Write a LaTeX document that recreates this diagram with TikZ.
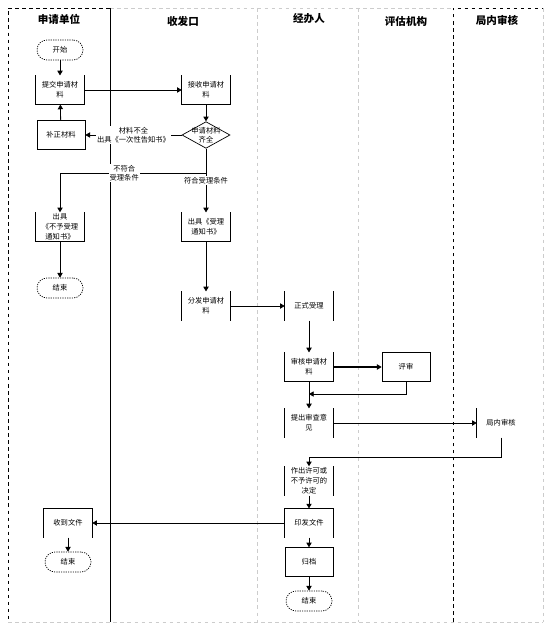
\documentclass[tikz,border=0pt]{standalone}
\usepackage{fontspec}
\setmainfont{Noto Sans CJK SC}
\usetikzlibrary{arrows.meta,shapes.geometric}

\begin{document}
\begin{tikzpicture}[x=0.3mm,y=-0.3mm,
    box/.style={minimum width=14.4mm,minimum height=8.6mm,inner sep=1pt,align=center,font=\fontsize{6.2}{8.5}\selectfont},
    frame/.style={box,draw,line width=0.6pt},
    term/.style={box,draw,line width=0.6pt,minimum width=13.8mm,minimum height=6mm,rounded corners=3mm,dash pattern=on 1pt off 1pt},
    check/.style={diamond,draw,line width=0.6pt,inner sep=0pt,minimum width=14.4mm,minimum height=8mm},
    lane/.style={font=\fontsize{9}{10}\selectfont\bfseries},
    tag/.style={fill=white,inner sep=1pt,align=center,font=\fontsize{6.2}{8}\selectfont},
    flow/.style={-{Triangle[length=4pt,width=4.5pt]},line width=0.7pt}]
        \useasboundingbox (0,0) rectangle (550,630);
        % lanes
        \draw[gray!40,dashed] (110,8) -- (453,8) (8,622) -- (543,622) (543,8) -- (543,622) (257,8) -- (257,622) (358,8) -- (358,622);
        \draw[dashed,line width=0.6pt] (110,8) -- (8,8) -- (8,622);
        \draw[dashed,line width=0.6pt] (453,622) -- (453,8) -- (543,8);
        \draw[line width=0.6pt] (110,8) -- (110,622);
        \node[lane] (unit) at (59,19) {申请单位};
        \node[lane] (desk) at (183,21) {收发口};
        \node[lane] (clerk) at (309,19) {经办人};
        \node[lane] (agency) at (406,21) {评估机构};
        \node[lane] (bureau) at (497,20) {局内审核};
        % steps
        \node[term] (start) at (60,50) {开始};
        \node[box] (submit) at (60,90) {提交申请材\\料};
        \node[frame] (fix) at (61,135) {补正材料};
        \node[box] (receive) at (206,90) {接收申请材\\料};
        \node[check,label={[align=center,font=\fontsize{6.2}{8}\selectfont]center:申请材料\\齐全}] (check) at (206,135) {};
        \node[box] (refuse) at (60,227) {出具\\《不予受理\\通知书》};
        \node[term] (end1) at (60,288) {结束};
        \node[box] (accept) at (206,227) {出具《受理\\通知书》};
        \node[box] (hand) at (206,306) {分发申请材\\料};
        \node[box] (take) at (309,306) {正式受理};
        \node[box] (review) at (309,367) {审核申请材\\料};
        \node[frame] (assess) at (406,367) {评审};
        \node[box] (opinion) at (309,423) {提出审查意\\见};
        \node[box] (audit) at (501,423) {局内审核};
        \node[box] (decide) at (309,481) {作出许可或\\不予许可的\\决定};
        \node[box] (issue) at (309,523) {印发文件};
        \node[frame] (file) at (309,562) {归档};
        \node[term] (end3) at (309,601) {结束};
        \node[box] (get) at (68,523) {收到文件};
        \node[term] (end2) at (68,562) {结束};
        % open sides
        \foreach \n in {submit,receive,refuse,accept,review}
            \draw[line width=0.6pt] (\n.north west) |- (\n.south east) -- (\n.north east);
        \foreach \n in {issue,get}
            \draw[line width=0.6pt] (\n.south west) |- (\n.north east) -- (\n.south east);
        \foreach \n in {hand,take,opinion,decide}
            \draw[line width=0.6pt] (\n.north west) -- (\n.south west) (\n.north east) -- (\n.south east);
        \draw[line width=0.6pt] (audit.north west) -- (audit.south west);
        % flow
        \coordinate (fork) at (206,173);
        \coordinate (back1) at (309,394);
        \coordinate (back2) at (309,457);
        \draw[flow] (start) -- (submit);
        \draw[flow] (submit) -- (receive);
        \draw[flow] (fix) -- (submit);
        \draw[flow] (receive) -- (check);
        \draw[flow] (check) -- node[tag]{材料不全\\出具《一次性告知书》} (fix);
        \draw[line width=0.7pt] (check) -- (fork);
        \draw[flow] (fork) -| node[tag,pos=0.28]{不符合\\受理条件} (refuse);
        \draw[flow] (fork) -- node[tag,pos=0.2]{符合受理条件} (accept);
        \draw[flow] (refuse) -- (end1);
        \draw[flow] (accept) -- (hand);
        \draw[flow] (hand) -- (take);
        \draw[flow] (take) -- (review);
        \draw[flow,line width=1.6pt] (review) -- (assess);
        \draw[flow] (assess.south) |- (back1);
        \draw[flow] (review) -- (opinion);
        \draw[flow] (opinion) -- (audit);
        \draw[flow] (audit.south) |- (back2) -- (decide);
        \draw[flow] (decide) -- (issue);
        \draw[flow] (issue) -- (file);
        \draw[flow] (file) -- (end3);
        \draw[flow] (issue) -- (get);
        \draw[flow] (get) -- (end2);
\end{tikzpicture}
\end{document}
